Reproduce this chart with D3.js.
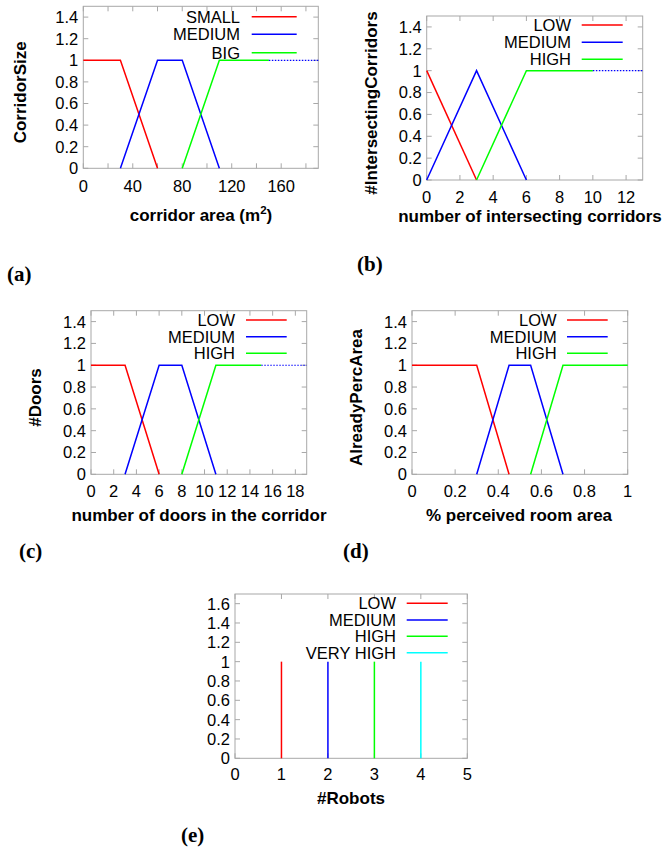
<!DOCTYPE html>
<html>
<head>
<meta charset="utf-8">
<script src="https://cdn.jsdelivr.net/npm/d3@7"></script>
<style>
  body { margin: 0; background: #fff; }
  svg { display: block; }
  text { font-family: "Liberation Sans", Arial, sans-serif; }
  text.tag { font-family: "Liberation Serif", "Times New Roman", serif; }
</style>
</head>
<body>
<svg id="chart" width="662" height="854"></svg>
<script>
// membership functions, [x, degree] pairs
const corridorSmall = [[0, 1], [30, 1], [60, 0]],
    corridorMedium = [[30, 0], [60, 1], [80, 1], [110, 0]],
    corridorBig = [[80, 0], [110, 1], [150, 1]];
const interLow = [[0, 1], [3, 0]],
    interMedium = [[0, 0], [3, 1], [6, 0]],
    interHigh = [[3, 0], [6, 1], [10, 1]];
const doorsLow = [[0, 1], [3, 1], [6, 0]],
    doorsMedium = [[3, 0], [6, 1], [8, 1], [11, 0]],
    doorsHigh = [[8, 0], [11, 1], [15, 1]];
const areaLow = [[0, 1], [0.3, 1], [0.45, 0]],
    areaMedium = [[0.3, 0], [0.45, 1], [0.55, 1], [0.7, 0]],
    areaHigh = [[0.55, 0], [0.7, 1], [1, 1]];
const robotsLow = [[1, 0], [1, 1]],
    robotsMedium = [[2, 0], [2, 1]],
    robotsHigh = [[3, 0], [3, 1]],
    robotsVeryHigh = [[4, 0], [4, 1]];

const labels3 = ["LOW", "MEDIUM", "HIGH"];
const labelsA = ["SMALL", "MEDIUM", "BIG"];
const labelsE = ["LOW", "MEDIUM", "HIGH", "VERY HIGH"];

const xTicksA = d3.range(0, 181, 20), xLabelsA = [0, 40, 80, 120, 160];
const xTicksB = d3.range(0, 13, 2);
const xTicksC = d3.range(0, 19, 2);
const xTicksD = [0, 0.2, 0.4, 0.6, 0.8, 1];
const xTicksE = [0, 1, 2, 3, 4, 5];
const yTicks = [0, 0.2, 0.4, 0.6, 0.8, 1, 1.2, 1.4];
const yTicksE = [0, 0.2, 0.4, 0.6, 0.8, 1, 1.2, 1.4, 1.6];

const colors = ["#ff0000", "#0000ff", "#00ff00", "#00ffff"];

const panels = [
    {tag: "(a)", tagPos: [7, 281], series: [corridorSmall, corridorMedium, corridorBig], names: labelsA,
     xDom: [0, 190], yDom: [0, 1.5], xTicks: xTicksA, xLabels: xLabelsA, yTicks: yTicks, dotted: true,
     box: {l: 83.3, r: 318.3, t: 6.3, b: 168.3}, xlOff: 24,
     yTitle: "CorridorSize", yTitleX: 20, xTitle: "corridor area (m", sup: "2", xTitleX: 201, xTitleY: 221,
     leg: {right: 240, x1: 251.7, x2: 296.7, ys: [16.7, 34.3, 52.7]}},
    {tag: "(b)", tagPos: [357, 271], series: [interLow, interMedium, interHigh], names: labels3,
     xDom: [0, 13], yDom: [0, 1.5], xTicks: xTicksB, yTicks: yTicks, dotted: true,
     box: {l: 426.7, r: 642.7, t: 16, b: 180}, xlOff: 23,
     yTitle: "#IntersectingCorridors", yTitleX: 371, xTitle: "number of intersecting corridors", xTitleX: 530, xTitleY: 222,
     leg: {right: 571, x1: 581.7, x2: 622.7, ys: [25, 42.3, 59.3]}},
    {tag: "(c)", tagPos: [19, 558], series: [doorsLow, doorsMedium, doorsHigh], names: labels3,
     xDom: [0, 19], yDom: [0, 1.5], xTicks: xTicksC, yTicks: yTicks, dotted: true,
     box: {l: 91, r: 306.7, t: 310.7, b: 474.3}, xlOff: 22.5,
     yTitle: "#Doors", yTitleX: 35, xTitle: "number of doors in the corridor", xTitleX: 199, xTitleY: 521,
     leg: {right: 235, x1: 246, x2: 286.7, ys: [320, 336.7, 353.3]}},
    {tag: "(d)", tagPos: [343, 558], series: [areaLow, areaMedium, areaHigh], names: labels3,
     xDom: [0, 1], yDom: [0, 1.5], xTicks: xTicksD, yTicks: yTicks, dotted: false,
     box: {l: 412, r: 627.7, t: 310.7, b: 474.3}, xlOff: 22.5,
     yTitle: "AlreadyPercArea", yTitleX: 356, xTitle: "% perceived room area", xTitleX: 519, xTitleY: 521,
     leg: {right: 556.7, x1: 567, x2: 607.7, ys: [320, 336.7, 353.3]}},
    {tag: "(e)", tagPos: [181, 842], series: [robotsLow, robotsMedium, robotsHigh, robotsVeryHigh], names: labelsE,
     xDom: [0, 5], yDom: [0, 1.7], xTicks: xTicksE, yTicks: yTicksE, dotted: false,
     box: {l: 235, r: 467.3, t: 594, b: 758.3}, xlOff: 22,
     yTitle: null, xTitle: "#Robots", xTitleX: 351, xTitleY: 804,
     leg: {right: 396, x1: 406.7, x2: 447.7, ys: [603.3, 620, 636.3, 652.7]}}
];

const svg = d3.select("#chart");
const fmt = d => d3.format("~g")(+d.toFixed(2));

panels.forEach(p => {
    const x = d3.scaleLinear().domain(p.xDom).range([p.box.l, p.box.r]),
        y = d3.scaleLinear().domain(p.yDom).range([p.box.b, p.box.t]),
        g = svg.append("g"),
        line = d3.line().x(d => x(d[0])).y(d => y(d[1]));

    // frame
    g.append("rect")
        .attr("x", p.box.l).attr("y", p.box.t)
        .attr("width", p.box.r - p.box.l).attr("height", p.box.b - p.box.t)
        .attr("fill", "none").attr("stroke", "#a8a8a8").attr("stroke-width", 1);

    // inward tick marks, mirrored
    p.xTicks.forEach(t => {
        [[p.box.b, -5], [p.box.t, 5]].forEach(([yy, dy]) => {
            g.append("line").attr("x1", x(t)).attr("x2", x(t))
                .attr("y1", yy).attr("y2", yy + dy)
                .attr("stroke", "#a8a8a8");
        });
    });
    p.yTicks.forEach(t => {
        [[p.box.l, 5], [p.box.r, -5]].forEach(([xx, dx]) => {
            g.append("line").attr("y1", y(t)).attr("y2", y(t))
                .attr("x1", xx).attr("x2", xx + dx)
                .attr("stroke", "#a8a8a8");
        });
    });

    // tick labels
    g.selectAll(".xl").data(p.xLabels || p.xTicks).enter().append("text")
        .attr("x", d => x(d)).attr("y", p.box.b + p.xlOff)
        .attr("text-anchor", "middle").attr("font-size", 16.5)
        .text(fmt);
    g.selectAll(".yl").data(p.yTicks).enter().append("text")
        .attr("x", p.box.l - 5).attr("y", d => y(d))
        .attr("dy", "0.36em")
        .attr("text-anchor", "end").attr("font-size", 16.5)
        .text(fmt);

    // titles
    const xt = g.append("text")
        .attr("x", p.xTitleX).attr("y", p.xTitleY)
        .attr("text-anchor", "middle").attr("font-size", 17).attr("font-weight", "bold")
        .text(p.xTitle);
    if (p.sup) {
        xt.append("tspan").attr("font-size", 11.5).attr("dy", -7).text(p.sup);
        xt.append("tspan").attr("dy", 7).text(")");
    }
    if (p.yTitle) {
        const cy = (p.box.t + p.box.b) / 2 + 5;
        g.append("text")
            .attr("transform", `translate(${p.yTitleX},${cy}) rotate(-90)`)
            .attr("dy", "0.36em")
            .attr("text-anchor", "middle").attr("font-size", 17).attr("font-weight", "bold")
            .text(p.yTitle);
    }

    // curves
    p.series.forEach((s, i) => {
        g.append("path").datum(s)
            .attr("d", line)
            .attr("fill", "none").attr("stroke", colors[i]).attr("stroke-width", 1.5);
    });
    if (p.dotted) {
        const last = p.series[p.series.length - 1],
            end = last[last.length - 1];
        g.append("path").datum([end, [p.xDom[1], end[1]]])
            .attr("d", line)
            .attr("fill", "none").attr("stroke", "#0000ff").attr("stroke-width", 1.2)
            .attr("stroke-dasharray", "1.5,1.5");
    }

    // legend
    p.names.forEach((n, i) => {
        const ly = p.leg.ys[i];
        g.append("text").attr("x", p.leg.right).attr("y", ly)
            .attr("dy", "0.36em").attr("text-anchor", "end").attr("font-size", 16.5)
            .text(n);
        g.append("line").attr("x1", p.leg.x1).attr("x2", p.leg.x2)
            .attr("y1", ly).attr("y2", ly)
            .attr("stroke", colors[i]).attr("stroke-width", 1.5);
    });

    // panel tag
    svg.append("text").attr("class", "tag")
        .attr("x", p.tagPos[0]).attr("y", p.tagPos[1])
        .attr("font-weight", "bold").attr("font-size", 21)
        .text(p.tag);
});
</script>
</body>
</html>
